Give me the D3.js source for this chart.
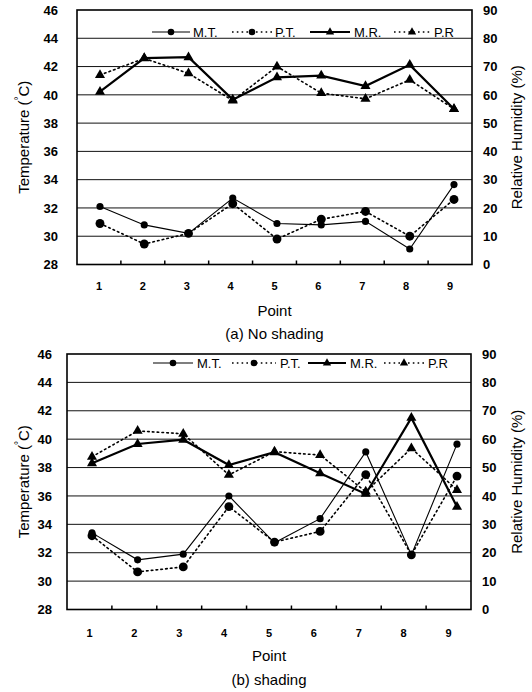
<!DOCTYPE html>
<html>
<head>
<meta charset="utf-8">
<script src="https://cdn.jsdelivr.net/npm/d3@7/dist/d3.min.js"></script>
<style>
  body { margin: 0; background: #fff; }
  svg { font-family: "Liberation Sans", Arial, sans-serif; }
</style>
</head>
<body>
<svg id="chart" width="532" height="692"></svg>
<script>
// categories & ticks
const points = ["1", "2", "3", "4", "5", "6", "7", "8", "9"];
const tempTicks = [28, 30, 32, 34, 36, 38, 40, 42, 44, 46];
const humTicks = [0, 10, 20, 30, 40, 50, 60, 70, 80, 90];

// (a) No shading
const mtA = [32.1, 30.8, 30.2, 32.7, 30.9, 30.8, 31.05, 29.1, 33.65];
const ptA = [30.9, 29.45, 30.2, 32.3, 29.8, 31.2, 31.75, 30.0, 32.6];
const mrA = [61.1, 73.0, 73.3, 58.3, 66.2, 66.8, 63.1, 70.6, 55.0];
const prA = [67.0, 72.9, 67.6, 58.0, 70.0, 60.6, 58.6, 65.3, 55.0];

// (b) shading
const mtB = [33.4, 31.5, 31.9, 36.0, 32.7, 34.4, 39.1, 31.85, 39.65];
const ptB = [33.2, 30.65, 31.0, 35.25, 32.75, 33.5, 37.5, 31.85, 37.4];
const mrB = [51.5, 58.3, 59.8, 50.9, 55.4, 48.0, 40.7, 67.5, 36.2];
const prB = [53.8, 62.9, 61.9, 47.4, 55.6, 54.4, 41.5, 56.8, 42.1];

const legendNames = ["M.T.", "P.T.", "M.R.", "P.R"];

const svg = d3.select("#chart");

// series styles
const styles = {
  mt: {width: 1.1, dash: null, shape: "circle", size: 40},
  pt: {width: 1.6, dash: "1.6,3.2", shape: "circle", size: 62},
  mr: {width: 2.2, dash: null, shape: "triangle", size: 44},
  pr: {width: 1.6, dash: "1.6,3.2", shape: "triangle", size: 44}
};

function drawPanel(cfg) {
  const g = svg.append("g");

  const yT = d3.scaleLinear().domain([28, 46]).range([cfg.bottom, cfg.top]);
  const yH = d3.scaleLinear().domain([0, 90]).range([cfg.bottom, cfg.top]);
  const xBand = d3.scaleBand().domain(points).range([cfg.left, cfg.right]);
  const xMark = d3.scalePoint().domain(points).range([cfg.markFirst, cfg.markLast]);

  // gridlines
  g.selectAll("line.grid")
    .data(tempTicks.slice(1, -1))
    .enter().append("line")
      .attr("x1", cfg.left).attr("x2", cfg.right)
      .attr("y1", d => yT(d)).attr("y2", d => yT(d))
      .attr("stroke", "#111").attr("stroke-width", 1);

  // border
  g.append("rect")
    .attr("x", cfg.left).attr("y", cfg.top)
    .attr("width", cfg.right - cfg.left).attr("height", cfg.bottom - cfg.top)
    .attr("fill", "none").attr("stroke", "#000").attr("stroke-width", 1.6);

  // category boundary ticks
  g.selectAll("line.xtick")
    .data(points.slice(1))
    .enter().append("line")
      .attr("x1", d => xBand(d)).attr("x2", d => xBand(d))
      .attr("y1", cfg.bottom).attr("y2", cfg.bottom - 4)
      .attr("stroke", "#000").attr("stroke-width", 1.5);

  // left axis
  const ax = g.append("g")
    .attr("transform", `translate(${cfg.left},0)`)
    .call(d3.axisLeft(yT).tickValues(tempTicks).tickSize(0).tickPadding(cfg.leftGap));
  ax.select(".domain").remove();
  ax.selectAll("text").style("font-size", "13px").style("font-weight", "bold")
    .style("font-family", "Liberation Sans, Arial, sans-serif");

  // right axis
  const ar = g.append("g")
    .attr("transform", `translate(${cfg.right},0)`)
    .call(d3.axisRight(yH).tickValues(humTicks).tickSize(0).tickPadding(11));
  ar.select(".domain").remove();
  ar.selectAll("text").style("font-size", "13px").style("font-weight", "bold")
    .style("font-family", "Liberation Sans, Arial, sans-serif");

  // bottom axis labels
  const ab = g.append("g")
    .attr("transform", `translate(0,${cfg.bottom})`)
    .call(d3.axisBottom(xBand).tickSize(0).tickPadding(cfg.xLabelPad));
  ab.select(".domain").remove();
  ab.selectAll("text").style("font-size", "11px").style("font-weight", "bold")
    .style("font-family", "Liberation Sans, Arial, sans-serif");

  // axis titles
  const mid = (cfg.top + cfg.bottom) / 2;
  const tl = g.append("text")
    .attr("transform", `translate(23,${mid}) rotate(-90)`)
    .attr("text-anchor", "middle").attr("dominant-baseline", "central")
    .style("font-size", "15px");
  tl.append("tspan").text("Temperature (");
  tl.append("tspan").text("°").attr("dy", -5).style("font-size", "10px");
  tl.append("tspan").text("C)").attr("dy", 5);

  g.append("text")
    .attr("transform", `translate(516,${mid}) rotate(-90)`)
    .attr("text-anchor", "middle").attr("dominant-baseline", "central")
    .style("font-size", "15px")
    .text("Relative Humidity (%)");

  g.append("text")
    .attr("x", (cfg.left + cfg.right) / 2).attr("y", cfg.bottom + cfg.pointDy)
    .attr("text-anchor", "middle").attr("dominant-baseline", "central")
    .style("font-size", "15px").text("Point");

  g.append("text")
    .attr("x", (cfg.left + cfg.right) / 2).attr("y", cfg.bottom + cfg.captionDy)
    .attr("text-anchor", "middle").attr("dominant-baseline", "central")
    .style("font-size", "15px").text(cfg.caption);

  // series
  const series = [
    {key: "mt", values: cfg.mt, y: yT},
    {key: "pt", values: cfg.pt, y: yT},
    {key: "mr", values: cfg.mr, y: yH},
    {key: "pr", values: cfg.pr, y: yH}
  ];

  series.forEach(s => {
    const st = styles[s.key];
    const line = d3.line().x((d, i) => xMark(points[i])).y(d => s.y(d));
    g.append("path")
      .datum(s.values)
      .attr("d", line)
      .attr("fill", "none").attr("stroke", "#000")
      .attr("stroke-width", st.width)
      .attr("stroke-dasharray", st.dash)
      .attr("stroke-linecap", st.dash ? "round" : "butt");
    const sym = d3.symbol()
      .type(st.shape === "circle" ? d3.symbolCircle : d3.symbolTriangle)
      .size(st.size);
    g.selectAll("path.m-" + s.key)
      .data(s.values)
      .enter().append("path")
        .attr("class", "m-" + s.key)
        .attr("transform", (d, i) => `translate(${xMark(points[i])},${s.y(d)})`)
        .attr("d", sym)
        .attr("fill", "#000");
  });

  // legend: [line start, line end, text x] per entry
  const lg = g.append("g").attr("transform", `translate(0,${cfg.legendY})`);
  ["mt", "pt", "mr", "pr"].forEach((k, i) => {
    const st = styles[k];
    const [x0, x1, tx] = cfg.legendX[i];
    lg.append("line")
      .attr("x1", x0).attr("x2", x1).attr("y1", 0).attr("y2", 0)
      .attr("stroke", "#000").attr("stroke-width", st.width)
      .attr("stroke-dasharray", st.dash);
    lg.append("path")
      .attr("transform", `translate(${(x0 + x1) / 2},0)`)
      .attr("d", d3.symbol().type(st.shape === "circle" ? d3.symbolCircle : d3.symbolTriangle)
        .size(st.shape === "circle" ? 34 : 30))
      .attr("fill", "#000");
    lg.append("text")
      .attr("x", tx).attr("y", 0)
      .attr("dominant-baseline", "central")
      .style("font-size", "13px")
      .text(legendNames[i]);
  });
}

drawPanel({
  left: 77, right: 472, top: 10, bottom: 264.5,
  markFirst: 100, markLast: 454,
  leftGap: 19, xLabelPad: 18, pointDy: 46, captionDy: 69,
  caption: "(a) No shading",
  legendY: 32,
  legendX: [[152, 190, 193], [232, 272, 275], [310, 350, 354], [394, 430, 434]],
  mt: mtA, pt: ptA, mr: mrA, pr: prA
});

drawPanel({
  left: 67, right: 471, top: 354, bottom: 609.5,
  markFirst: 92, markLast: 457,
  leftGap: 15, xLabelPad: 20, pointDy: 46, captionDy: 70,
  caption: "(b) shading",
  legendY: 363,
  legendX: [[153, 193, 197], [232, 276, 280], [308, 346, 350], [384, 424, 428]],
  mt: mtB, pt: ptB, mr: mrB, pr: prB
});
</script>
</body>
</html>
